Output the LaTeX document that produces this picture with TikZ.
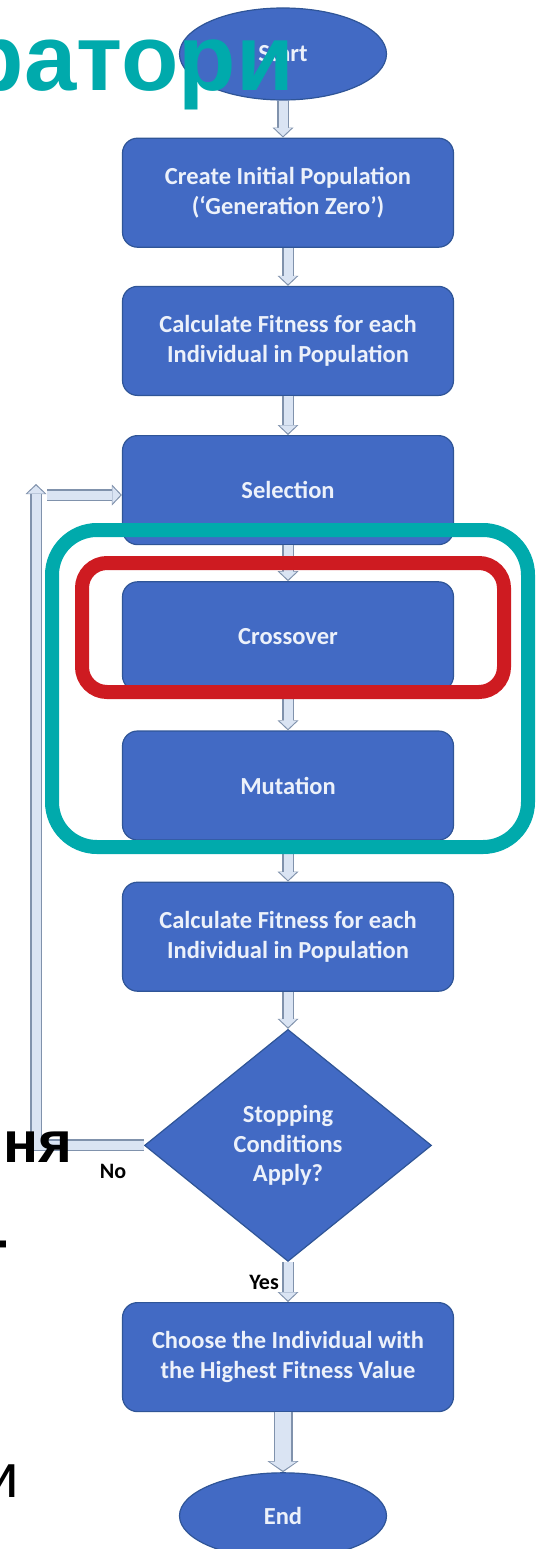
\documentclass[tikz,border=0pt]{standalone}
\usepackage{fontspec}
\setmainfont{DejaVu Sans}
\newfontfamily\boxfont{Carlito}
\newfontfamily\slidefont{Liberation Sans}
\usetikzlibrary{arrows.meta,positioning,shapes.geometric}
\definecolor{stepblue}{RGB}{66,106,196}
\definecolor{stepedge}{RGB}{47,85,151}
\definecolor{steptext}{RGB}{236,241,250}
\definecolor{arrowfill}{RGB}{218,228,243}
\definecolor{arrowedge}{RGB}{128,146,172}
\definecolor{frameteal}{RGB}{0,170,172}
\definecolor{framered}{RGB}{206,27,33}

\begin{document}
\begin{tikzpicture}[
    x=1pt, y=-1pt,
    node distance=38pt,
    every node/.style={inner sep=0pt},
    shapefill/.style={draw=stepedge, line width=1.2pt, fill=stepblue, align=center, text=steptext, font=\boxfont\bfseries\fontsize{24.5}{29.5}\selectfont},
    box/.style={shapefill, rounded corners=15pt, minimum width=331pt, minimum height=109pt},
    terminal/.style={shapefill, ellipse, minimum width=207pt, minimum height=#1},
    decision/.style={shapefill, diamond, minimum width=287pt, minimum height=232pt},
    flow/.style={line width=9pt, draw=arrowfill, shorten >=1.6pt, -{Triangle[length=8pt, width=17pt, line width'=0pt]},
        preaction={draw=arrowedge, line width=12pt, shorten >=0pt, -{Triangle[length=10pt, width=21pt, line width'=0pt]}}},
    wideflow/.style={line width=16pt, draw=arrowfill, shorten >=1.6pt, -{Triangle[length=9pt, width=27pt, line width'=0pt]},
        preaction={draw=arrowedge, line width=19pt, shorten >=0pt, -{Triangle[length=11pt, width=31pt, line width'=0pt]}}},
    tag/.style={font=\boxfont\bfseries\fontsize{22}{26}\selectfont},
    slide/.style={font=\slidefont\bfseries\fontsize{#1}{#1}\selectfont},
    hilite/.style={line width=14pt, rounded corners=#1}
]
\useasboundingbox (0,0) rectangle (536,1549);
\node[terminal=92pt] (start) at (283,54) {Start};
\node[box, below=37pt of start, xshift=5pt] (create) {Create Initial Population\\(‘Generation Zero’)};
\node[box, below=of create] (fitone) {Calculate Fitness for each\\Individual in Population};
\node[box, below=39pt of fitone] (sel) {Selection};
\node[box, below=36pt of sel] (cross) {Crossover};
\node[box, below=39pt of cross] (mut) {Mutation};
\node[box, below=41pt of mut] (fittwo) {Calculate Fitness for each\\Individual in Population};
\node[decision, below=37pt of fittwo] (cond) {Stopping\\Conditions\\Apply?};
\node[box, below=40pt of cond] (choose) {Choose the Individual with\\the Highest Fitness Value};
\node[terminal=86pt, below=60pt of choose, xshift=-5pt] (end) {End};
\coordinate (loopup) at (36,484);
\coordinate (loopin) at (47,495);
\draw[flow] (start) -- (start |- create.north);
\draw[flow] (create) -- (fitone);
\draw[flow] (fitone) -- (sel);
\draw[flow] (sel) -- (cross);
\draw[flow] (cross) -- (mut);
\draw[flow] (mut) -- (fittwo);
\draw[flow] (fittwo) -- (cond);
\draw[flow] (cond) -- (choose);
\draw[wideflow] (choose.south -| end) -- (end);
\draw[flow] (cond.west) -| (loopup);
\draw[flow] (loopin) -- (loopin -| sel.west);
\node[tag, anchor=east] (yes) at (279,1282) {Yes};
\node[tag] (no) at (113,1171) {No};
\node[slide=94, anchor=base east, text=frameteal] (heading) at (294,91) {ратори};
\node[slide=58, anchor=base west] (worda) at (3,1162) {ня};
\node[slide=58, anchor=base east] (wordb) at (9,1259) {-};
\node[anchor=base east, font=\slidefont\fontsize{62}{62}\selectfont] (wordc) at (19.5,1497) {и};
\draw[hilite=45pt, frameteal] (52,530) rectangle (528,847);
\draw[hilite=25pt, framered] (82,563) rectangle (504,692);
\end{tikzpicture}
\end{document}
